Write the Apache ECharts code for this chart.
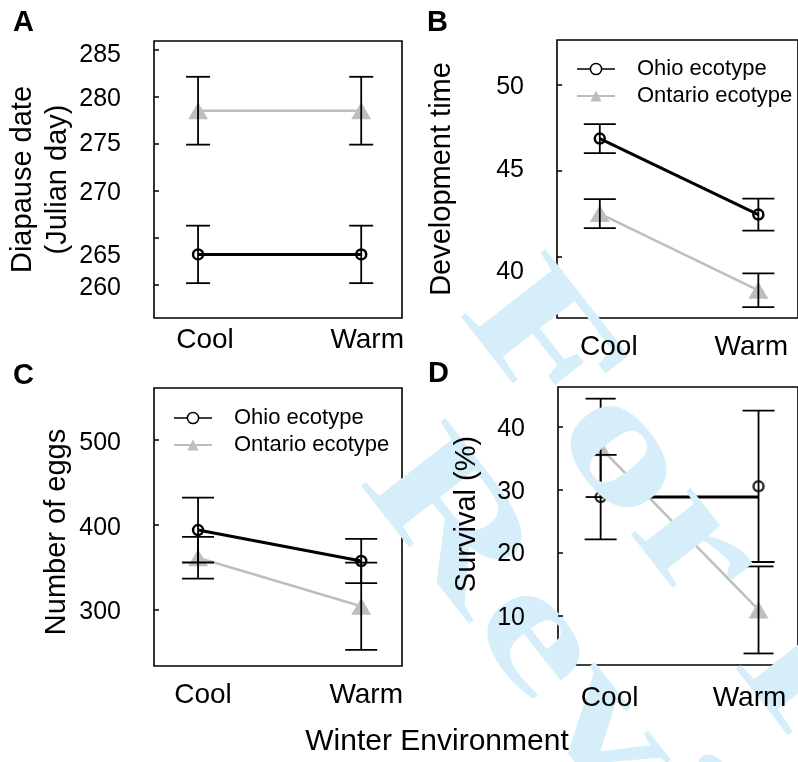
<!DOCTYPE html>
<html>
<head>
<meta charset="utf-8">
<script src="https://cdn.jsdelivr.net/npm/echarts@6/dist/echarts.min.js"></script>
<style>
html, body { margin: 0; padding: 0; background: #fff; }
#main { width: 798px; height: 762px; }
</style>
</head>
<body>
<div id="main"></div>
<script>
// winter environment on the x axis
var envLabels = ['Cool', 'Warm'];
var envX = [1, 2];
var seriesNames = ['Ohio ecotype', 'Ontario ecotype'];

// tick labels
var diapTicks = [260, 265, 270, 275, 280, 285];
var devTicks = [40, 45, 50];
var eggTicks = [300, 400, 500];
var survTicks = [10, 20, 30, 40];

// A: diapause date (Julian day), mean and error
var diapOhio = [263.25, 263.25];
var diapOhioErr = [3.05, 3.05];
var diapOntario = [278.5, 278.5];
var diapOntarioErr = [3.6, 3.6];

// B: development time
var devOhio = [46.85, 42.44];
var devOhioErr = [0.84, 0.93];
var devOntario = [42.5, 38.05];
var devOntarioErr = [0.84, 0.98];

// C: number of eggs
var eggOhio = [393.9, 357.4];
var eggOhioErr = [38.3, 26.2];
var eggOntario = [361.2, 304];
var eggOntarioErr = [24.7, 51.5];

// D: survival (%) - the Ohio line is drawn flat in the original figure
var survOhio = [28.8, 30.5];
var survOhioLine = [28.8, 28.8];
var survOhioErr = [6.7, 12];
var survOntario = [36.6, 10.9];
var survOntarioErr = [7.8, 6.9];

var FONT = 'Liberation Sans';
var GRAY = '#bebebe';

function pairs(vals) {
	return envX.map(function (x, i) { return [x, vals[i]]; });
}
function errPairs(vals, errs) {
	return envX.map(function (x, i) { return [x, vals[i], errs[i]]; });
}
function tx(size, padding) {
	var s = { fontSize: size, fontFamily: FONT, color: '#000' };
	if (padding) s.padding = padding;
	return s;
}

// vertical error bar with caps
function errorBars(halfCap) {
	return function (params, api) {
		var x = api.value(0), m = api.value(1), e = api.value(2);
		var hi = api.coord([x, m + e]);
		var lo = api.coord([x, m - e]);
		var st = { stroke: '#000', lineWidth: 1.8 };
		return {
			type: 'group',
			children: [
				{ type: 'line', shape: { x1: hi[0], y1: hi[1], x2: lo[0], y2: lo[1] }, style: st },
				{ type: 'line', shape: { x1: hi[0] - halfCap, y1: hi[1], x2: hi[0] + halfCap, y2: hi[1] }, style: st },
				{ type: 'line', shape: { x1: lo[0] - halfCap, y1: lo[1], x2: lo[0] + halfCap, y2: lo[1] }, style: st }
			]
		};
	};
}

var grids = [
	{ left: 154, top: 41, width: 248, height: 277 },
	{ left: 557, top: 40, width: 246, height: 278 },
	{ left: 154, top: 388, width: 248, height: 278 },
	{ left: 558, top: 387, width: 246, height: 278 }
];

var yLabelRich = {
	s0: tx(25),
	s2: tx(25, [4, 0, 0, 0]),
	s3: tx(25, [6, 0, 0, 0]),
	s6: tx(25, [12, 0, 0, 0]),
	s15: tx(25, [30, 0, 0, 0]),
	s18: tx(25, [36, 0, 0, 0])
};

function xAxisFor(i, shift, margin) {
	function pad(s) { return s >= 0 ? [0, 0, 0, 2 * s] : [0, -2 * s, 0, 0]; }
	return {
		type: 'value', gridIndex: i, min: 0.73, max: 2.25, z: 20,
		axisLine: { show: false }, axisTick: { show: false }, splitLine: { show: false },
		axisLabel: {
			customValues: envX, margin: margin,
			formatter: function (v) {
				return '{' + (v === 1 ? 'a' : 'b') + '|' + envLabels[v - 1] + '}';
			},
			rich: { a: tx(28, pad(shift[0])), b: tx(28, pad(shift[1])) }
		}
	};
}

function yAxisFor(i, min, max, ticks, nudge, name, nameGap, namePad) {
	return {
		type: 'value', gridIndex: i, min: min, max: max, z: 20,
		name: name, nameLocation: 'middle', nameGap: nameGap, nameRotate: 90,
		nameTextStyle: { fontSize: 29, fontFamily: FONT, color: '#000', lineHeight: 35, padding: namePad || 0 },
		axisLine: { show: false }, splitLine: { show: false },
		axisTick: { show: true, inside: true, length: 5, customValues: ticks, lineStyle: { color: '#000', width: 1.5 } },
		axisLabel: {
			customValues: ticks, margin: 33,
			formatter: function (v) { return '{' + (nudge[v] || 's3') + '|' + v + '}'; },
			rich: yLabelRich
		}
	};
}

function ontarioLine(i, vals) {
	return {
		type: 'line', name: seriesNames[1], xAxisIndex: i, yAxisIndex: i,
		data: pairs(vals), symbol: 'triangle', symbolSize: [20, 17],
		itemStyle: { color: GRAY },
		lineStyle: { color: GRAY, width: 2.5 }, z: 2
	};
}
function ohioLine(i, vals, withSymbol) {
	return {
		type: 'line', name: seriesNames[0], xAxisIndex: i, yAxisIndex: i,
		data: pairs(vals), symbol: withSymbol ? 'circle' : 'none', symbolSize: 10,
		itemStyle: { color: 'rgba(0,0,0,0)', borderColor: '#000', borderWidth: 2.5 },
		lineStyle: { color: '#000', width: 3 }, z: 3
	};
}
function errSeries(i, vals, errs, halfCap) {
	return {
		type: 'custom', xAxisIndex: i, yAxisIndex: i,
		data: errPairs(vals, errs), renderItem: errorBars(halfCap), z: 4
	};
}

function legendFor(left, top, gap) {
	return {
		orient: 'vertical', left: left, top: top, itemGap: gap, z: 20,
		itemWidth: 38, itemHeight: 14, selectedMode: false,
		textStyle: { fontSize: 22, fontFamily: FONT, color: '#000', padding: [0, 0, 0, 17] },
		data: [
			{ name: seriesNames[0], itemStyle: { color: '#fff', borderColor: '#000', borderWidth: 1.5 }, lineStyle: { color: '#000', width: 1.5 } },
			{ name: seriesNames[1], itemStyle: { color: GRAY, borderWidth: 0 }, lineStyle: { color: GRAY, width: 2 } }
		]
	};
}

var gridOpts = grids.map(function (g) {
	return Object.assign({ show: true, borderColor: '#000', borderWidth: 1.6, backgroundColor: 'transparent' }, g);
});

function label(text, x, y, font, align) {
	return { type: 'text', x: x, y: y, z: 20, style: { text: text, font: font, fill: '#000', align: align || 'left', verticalAlign: 'middle' } };
}

// review watermark: sits over the plot lines, under the texts
var wmAngle = -52 * Math.PI / 180;
var wmFont = 'bold 165px "Liberation Serif"';
function watermark(text, x, y) {
	return { type: 'text', x: x, y: y, rotation: wmAngle, scaleX: 1.5, z: 10, silent: true,
		style: { text: text, font: wmFont, fill: '#d5eefa', align: 'left', verticalAlign: 'middle' } };
}

var option = {
	animation: false,
	backgroundColor: '#fff',
	grid: gridOpts,
	xAxis: [
		xAxisFor(0, [7, 6], 8),
		xAxisFor(1, [9, -7], 15),
		xAxisFor(2, [5, 5], 15),
		xAxisFor(3, [9, -9], 19)
	],
	yAxis: [
		yAxisFor(0, 256.5, 285.9, diapTicks, { 285: 's6', 280: 's3', 275: 's0', 270: 's2', 265: 's18', 260: 's3' }, 'Diapause date\n(Julian day)', 73),
		yAxisFor(1, 36.44, 52.57, devTicks, { 50: 's3', 45: 's0', 40: 's15' }, 'Development time', 98),
		yAxisFor(2, 233.4, 561.7, eggTicks, {}, 'Number of eggs', 80, [0, 10, 0, 0]),
		yAxisFor(3, 2.17, 46.25, survTicks, { 20: 's2', 10: 's2' }, 'Survival (%)', 74, [0, 0, 0, 24])
	],
	legend: [legendFor(571, 53, 5), legendFor(168, 402, 5)],
	series: [
		ontarioLine(0, diapOntario), ohioLine(0, diapOhio, true),
		errSeries(0, diapOntario, diapOntarioErr, 12), errSeries(0, diapOhio, diapOhioErr, 12),

		ontarioLine(1, devOntario), ohioLine(1, devOhio, true),
		errSeries(1, devOntario, devOntarioErr, 16), errSeries(1, devOhio, devOhioErr, 16),

		ontarioLine(2, eggOntario), ohioLine(2, eggOhio, true),
		errSeries(2, eggOntario, eggOntarioErr, 16), errSeries(2, eggOhio, eggOhioErr, 16),

		ontarioLine(3, survOntario), ohioLine(3, survOhioLine, false),
		{
			type: 'scatter', name: seriesNames[0], xAxisIndex: 3, yAxisIndex: 3,
			data: pairs(survOhio), symbol: 'circle', symbolSize: 10,
			itemStyle: { color: 'rgba(0,0,0,0)', borderColor: '#000', borderWidth: 2.5 }, z: 3
		},
		errSeries(3, survOntario, survOntarioErr, 15), errSeries(3, survOhio, survOhioErr, 16)
	],
	graphic: [
		label('A', 13, 23, 'bold 29px "Liberation Sans"'),
		label('B', 427, 23, 'bold 29px "Liberation Sans"'),
		label('C', 13, 376, 'bold 29px "Liberation Sans"'),
		label('D', 428, 374, 'bold 29px "Liberation Sans"'),
		label('Winter Environment', 437, 742, '30px "Liberation Sans"', 'center'),
		watermark('For Peer', 491, 286),
		watermark('Review', 391, 455)
	]
};

var chart = echarts.init(document.getElementById('main'), null, { renderer: 'canvas' });
chart.setOption(option);
</script>
</body>
</html>
